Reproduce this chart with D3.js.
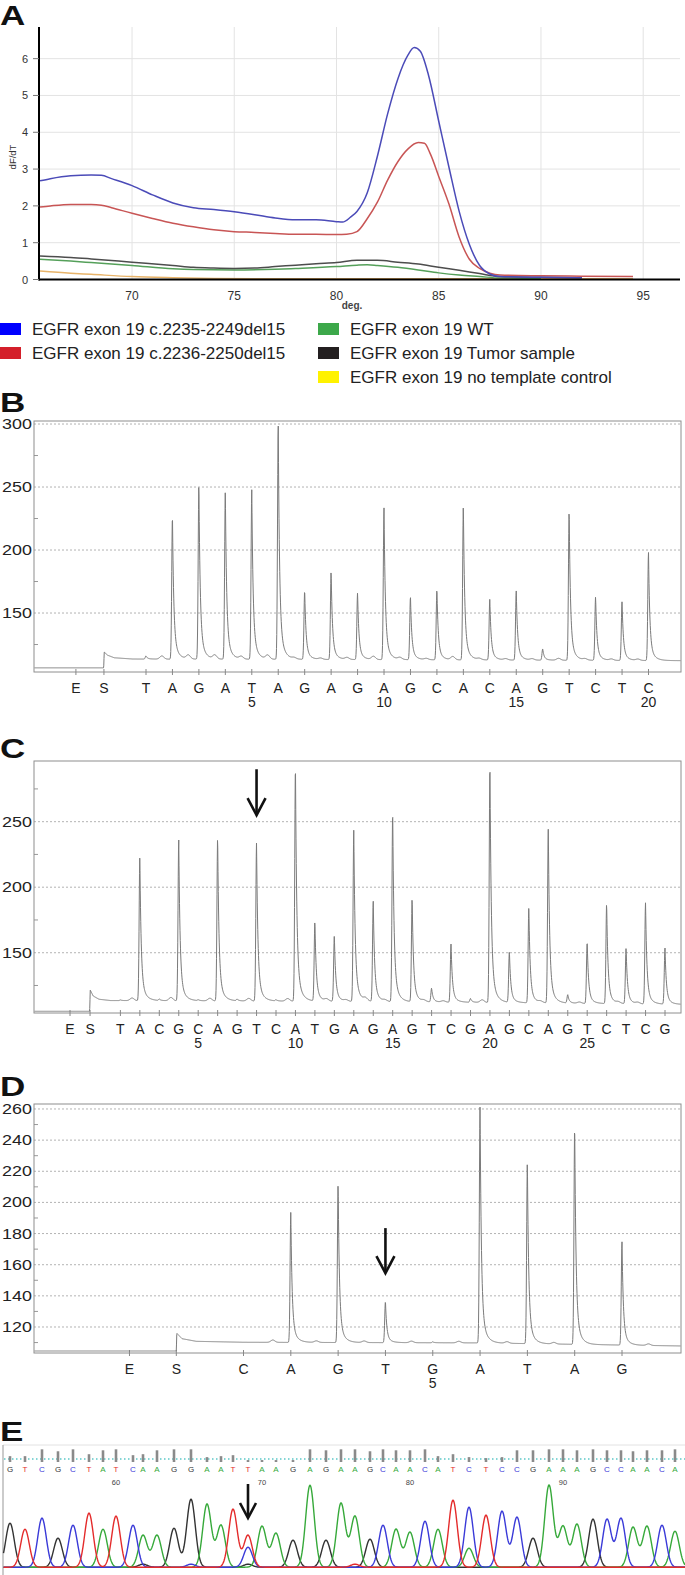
<!DOCTYPE html>
<html>
<head>
<meta charset="utf-8">
<script src="https://cdnjs.cloudflare.com/ajax/libs/d3/7.8.5/d3.min.js"></script>
<style>
  body { margin: 0; background: #fff; }
  svg { display: block; }
  text { font-family: "Liberation Sans", Arial, sans-serif; }
</style>
</head>
<body>
<svg id="fig" width="685" height="1575"></svg>
<script>
(function() {
    'use strict';

    // ---- A: melting curves, [deg, dF/dT]
    var meltDel2235 = [[65.5,2.68],[66,2.74],[67,2.82],[68,2.84],[68.5,2.83],[69,2.74],[70,2.55],[71,2.3],[72,2.08],[73,1.95],[74,1.9],[75,1.84],[76,1.76],[77,1.67],[78,1.62],[79,1.62],[80,1.57],[80.3,1.56],[80.7,1.7],[81,1.85],[81.5,2.35],[82,3.35],[82.5,4.5],[83,5.45],[83.5,6.1],[83.8,6.3],[84.1,6.2],[84.5,5.55],[85,4.3],[85.5,3.05],[86,1.85],[86.5,0.95],[87,0.38],[87.5,0.15],[88,0.08],[90,0.06],[92,0.05]];
    var meltDel2236 = [[65.5,1.97],[66,2.0],[67,2.04],[68,2.04],[68.5,2.02],[69,1.95],[70,1.8],[71,1.66],[72,1.53],[73,1.43],[74,1.35],[75,1.3],[76,1.28],[77,1.25],[78,1.23],[79,1.23],[80,1.22],[80.5,1.23],[81,1.3],[81.5,1.65],[82,2.1],[82.5,2.7],[83,3.2],[83.5,3.55],[84,3.72],[84.3,3.7],[84.6,3.4],[85,2.8],[85.5,2.05],[86,1.15],[86.5,0.55],[87,0.3],[87.5,0.17],[88,0.12],[90,0.1],[92,0.09],[94.5,0.08]];
    var meltWT = [[65.5,0.55],[67,0.5],[68,0.46],[70,0.38],[72,0.29],[73,0.27],[75,0.26],[77,0.28],[78,0.3],[80,0.35],[81,0.39],[81.5,0.4],[82,0.38],[83,0.33],[84,0.26],[85,0.18],[86,0.12],[87,0.08],[88,0.04],[90,0.03]];
    var meltTumor = [[65.5,0.64],[67,0.6],[68,0.56],[70,0.47],[72,0.38],[73,0.33],[74,0.31],[75,0.3],[76,0.31],[77,0.35],[78,0.39],[79,0.43],[80,0.46],[81,0.52],[82,0.52],[83,0.47],[84,0.42],[85,0.33],[86,0.25],[87,0.16],[88,0.08],[90,0.06],[92,0.05]];
    var meltNTC = [[65.5,0.23],[67,0.17],[68,0.14],[70,0.08],[72,0.05],[74,0.03],[76,0.02],[80,0.02],[85,0.02],[90,0.02],[94.5,0.02]];
    var meltXTicks = [70, 75, 80, 85, 90, 95];
    var meltYTicks = [0, 1, 2, 3, 4, 5, 6];
    var legendLabels = ["EGFR exon 19 c.2235-2249del15", "EGFR exon 19 c.2236-2250del15",
        "EGFR exon 19 WT", "EGFR exon 19 Tumor sample", "EGFR exon 19 no template control"];
    var legendColors = ["#0000ff", "#d41f2a", "#3ca84a", "#231f20", "#fff200"];
    var lineColors = ["#4b4bb8", "#c85555", "#55a05a", "#4d4d4d", "#e8b46a"];

    // ---- B, C, D: pyrograms (dispensation order, peak heights)
    var pyroBSeq = "TAGATAGAGAGCACAGTCTC".split("");
    var pyroBVal = [116, 227.5, 252.5, 246.5, 248, 300, 168, 183, 166, 233.5, 163, 169, 235, 161, 167.5, 121.6, 231.5, 163, 159, 198];
    var pyroBBase = [[-3.3,106.5],[-0.6,106.5],[-0.58,119],[-0.45,116.5],[-0.2,114.5],[0.5,113.5],[10,113],[21.3,112.2]];
    var pyroBBumps = [[1.6,2.5],[2.6,3],[3.6,3],[4.6,2],[5.6,3],[6.6,1],[7.6,1],[8.6,1.5],[9.6,2.5],[10.6,1.5],[11.6,1],[12.6,2.5],[13.6,1],[14.6,1],[15.6,1],[16.6,1.5],[17.6,1],[18.6,1],[19.6,1]];

    var pyroCSeq = "TACGCAGTCATGAGAGTCGAGCAGTCTCG".split("");
    var pyroCVal = [114, 223.3, 114.5, 236, 114, 238.5, 114.5, 234, 114, 292.7, 173.7, 162.8, 243.7, 189, 258, 191.5, 122.8, 156.7, 115, 293.8, 150.8, 184.4, 244.4, 117.7, 158.4, 187.7, 153.4, 188.2, 153.4];
    var pyroCBase = [[-3.5,105.3],[-0.58,105.3],[-0.55,121.5],[-0.4,117],[-0.1,114.5],[0.5,113.5],[10,113],[20,112],[30,110.5]];
    var pyroCBumps = [[1.6,2],[3.6,2.5],[5.6,2],[7.6,2],[9.6,2],[11.6,1.5],[12.6,1],[13.6,2],[14.6,1],[16.6,1],[17.6,1],[19.6,2],[22.6,1],[24.6,1],[26.6,1],[27.6,1]];

    var pyroDSeq = "CAGTGATAG".split("");
    var pyroDVal = [110, 193.9, 212, 136.7, 110.5, 261.8, 226, 249.5, 174.7];
    var pyroDBase = [[-3.5,104.6],[-0.42,104.6],[-0.41,116],[-0.3,112.5],[0,110.8],[1,110.2],[6,109.8],[10.3,107.8]];
    var pyroDBumps = [[1.62,1.5],[2.54,1],[3.55,1],[4.55,1],[5.55,1],[6.57,1],[7.56,1],[9.56,1]];

    // ---- E: Sanger trace
    var sangerSeq = "GTCGCTATCAAGGAATTAAGAGAAGCAACATCTCCGAAAGCCAACA".split("");
    var sangerScan = [10,25,42,58,73,89,103,116,133,143,157,174,191,207,221,233,248,262,276,293,310,326,341,355,370,383,396,410,425,438,453,469,486,502,517,533,549,563,577,593,607,621,633,647,662,675];
    var sangerPeak = [44,38,49,29,42,54,38,51,42,32,32,39,68,63,42,58,32,41,34,27,82,27,64,51,28,42,38,35,46,38,67,60,52,56,50,29,82,41,43,48,48,49,40,41,42,36];
    var sangerQual = [18,18,39,33,39,24,36,39,21,24,36,39,39,15,18,21,6,6,6,6,39,36,39,39,33,39,36,36,39,18,24,15,12,15,36,36,39,39,36,39,36,36,33,36,36,39];
    var sangerMinor = [["C",17,20],["G",17,3],["A",32,19],["G",10,3],["T",24,3],["C",13,3]];
    var sangerNumbers = [[8,"60"],[18,"70"],[28,"80"],[38,"90"]];
    var baseColors = {A: "#36a93a", C: "#3a3ad8", G: "#333333", T: "#e42b2b"};

    var svg = d3.select("#fig");

    function panelLetter(t, x, y) {
        svg.append("text")
            .attr("transform", "translate(" + x + "," + y + ") scale(1.25,1)")
            .attr("font-size", 28)
            .attr("font-weight", "bold")
            .attr("fill", "#111")
            .text(t);
    }

    // ============ A ============
    var xA = d3.scaleLinear().domain([65.45, 96.8]).range([39, 680]),
        yA = d3.scaleLinear().domain([0, 6.86]).range([279.5, 27]);
    var gA = svg.append("g");

    gA.selectAll("line.vg").data(meltXTicks).enter().append("line")
        .attr("x1", function(d) { return xA(d); })
        .attr("x2", function(d) { return xA(d); })
        .attr("y1", yA(6.86)).attr("y2", yA(0))
        .attr("stroke", "#e3e3e3");
    gA.selectAll("line.hg").data(meltYTicks.slice(1)).enter().append("line")
        .attr("x1", xA.range()[0]).attr("x2", xA.range()[1])
        .attr("y1", function(d) { return yA(d); })
        .attr("y2", function(d) { return yA(d); })
        .attr("stroke", "#e3e3e3");

    var meltLine = d3.line()
        .x(function(d) { return xA(d[0]); })
        .y(function(d) { return yA(d[1]); })
        .curve(d3.curveMonotoneX);
    var meltSeries = [meltNTC, meltWT, meltTumor, meltDel2236, meltDel2235];
    var meltColors = [lineColors[4], lineColors[2], lineColors[3], lineColors[1], lineColors[0]];
    gA.selectAll("path.melt").data(meltSeries).enter().append("path")
        .attr("d", meltLine)
        .attr("fill", "none")
        .attr("stroke", function(d, i) { return meltColors[i]; })
        .attr("stroke-width", 1.5);

    // axes
    gA.append("line").attr("x1", xA.range()[0]).attr("x2", xA.range()[1])
        .attr("y1", yA(0)).attr("y2", yA(0)).attr("stroke", "#000").attr("stroke-width", 2);
    gA.append("line").attr("x1", xA.range()[0]).attr("x2", xA.range()[0])
        .attr("y1", yA(6.86)).attr("y2", yA(0) + 1).attr("stroke", "#000").attr("stroke-width", 2);
    gA.selectAll("line.yt").data(meltYTicks).enter().append("line")
        .attr("x1", 33).attr("x2", 39)
        .attr("y1", function(d) { return yA(d); })
        .attr("y2", function(d) { return yA(d); })
        .attr("stroke", "#777");
    gA.selectAll("text.yl").data(meltYTicks).enter().append("text")
        .attr("x", 28).attr("y", function(d) { return yA(d) + 4; })
        .attr("text-anchor", "end")
        .attr("font-family", "DejaVu Sans").attr("font-size", 11).attr("fill", "#333")
        .text(function(d) { return d; });
    gA.selectAll("text.xl").data(meltXTicks).enter().append("text")
        .attr("x", function(d) { return xA(d); }).attr("y", 300)
        .attr("text-anchor", "middle")
        .attr("font-family", "DejaVu Sans").attr("font-size", 12).attr("fill", "#333")
        .text(function(d) { return d; });
    gA.append("text").attr("transform", "translate(16,157) rotate(-90)")
        .attr("text-anchor", "middle").attr("font-size", 9.5).attr("fill", "#333")
        .text("dF/dT");
    gA.append("text").attr("x", 352).attr("y", 309)
        .attr("text-anchor", "middle").attr("font-size", 10).attr("font-weight", "bold").attr("fill", "#444")
        .text("deg.");

    // legend: two columns
    var legendPos = [[0, 329], [0, 353], [318, 329], [318, 353], [318, 377]];
    var lg = gA.selectAll("g.leg").data(legendLabels).enter().append("g")
        .attr("transform", function(d, i) { return "translate(" + legendPos[i][0] + "," + legendPos[i][1] + ")"; });
    lg.append("rect").attr("x", 0).attr("y", -6).attr("width", 21).attr("height", 12)
        .attr("fill", function(d, i) { return legendColors[i]; });
    lg.append("text").attr("x", 32).attr("y", 6)
        .attr("font-size", 17).attr("fill", "#222")
        .text(function(d) { return d; });

    panelLetter("A", 0, 25);

    // ============ pyrograms ============
    function peakShape(dx) {
        if (dx < 0) return Math.exp(-dx * dx / (2 * 0.7 * 0.7));
        return 0.85 * Math.exp(-dx / 1.3) + 0.15 * Math.exp(-dx / 4.5);
    }

    function pyrogram(p) {
        var x = d3.scaleLinear().domain([1, p.seq.length]).range(p.xr),
            y = d3.scaleLinear().domain(p.yd).range([p.bottom, p.top]);
        var g = svg.append("g");

        g.selectAll("line.grid").data(p.yTicks).enter().append("line")
            .attr("x1", p.left).attr("x2", p.right)
            .attr("y1", function(d) { return y(d); })
            .attr("y2", function(d) { return y(d); })
            .attr("stroke", "#a0a0a0").attr("stroke-width", 0.8)
            .attr("stroke-dasharray", "2,2");
        g.selectAll("line.minor").data(p.yMinor).enter().append("line")
            .attr("x1", p.left).attr("x2", p.left + 4)
            .attr("y1", function(d) { return y(d); })
            .attr("y2", function(d) { return y(d); })
            .attr("stroke", "#999");
        g.append("rect")
            .attr("x", p.left).attr("y", p.top)
            .attr("width", p.right - p.left).attr("height", p.bottom - p.top)
            .attr("fill", "none").attr("stroke", "#8e8e8e");
        g.selectAll("text.yl").data(p.yTicks).enter().append("text")
            .attr("transform", function(d) { return "translate(32," + (y(d) + 5) + ") scale(1.28,1)"; })
            .attr("text-anchor", "end").attr("font-size", 14).attr("fill", "#222")
            .text(function(d) { return d; });

        // dispensation labels
        var labNs = [p.es[0], p.es[1]].concat(d3.range(1, p.seq.length + 1)),
            labTs = ["E", "S"].concat(p.seq);
        g.selectAll("line.xt").data(labNs).enter().append("line")
            .attr("x1", function(d) { return x(d); })
            .attr("x2", function(d) { return x(d); })
            .attr("y1", p.bottom - 3).attr("y2", p.bottom + 3)
            .attr("stroke", "#888");
        g.selectAll("text.xl").data(labNs).enter().append("text")
            .attr("x", function(d) { return x(d); }).attr("y", p.bottom + 21)
            .attr("text-anchor", "middle").attr("font-size", 14).attr("fill", "#222")
            .text(function(d, i) { return labTs[i]; });
        g.selectAll("text.nl").data(d3.range(5, p.seq.length + 1, 5)).enter().append("text")
            .attr("x", function(d) { return x(d); }).attr("y", p.bottom + 35)
            .attr("text-anchor", "middle").attr("font-size", 14).attr("fill", "#222")
            .text(function(d) { return d; });

        // trace
        var baseAt = d3.scaleLinear()
            .domain(p.base.map(function(d) { return d[0]; }))
            .range(p.base.map(function(d) { return d[1]; }))
            .clamp(true);
        var pts = [];
        for (var px = p.left + 0.5; px <= p.right - 0.5; px += 0.25) {
            var n = x.invert(px),
                lift = 0;
            p.vals.forEach(function(v, i) {
                var amp = y(baseAt(i + 1)) - y(v);
                if (amp > 0) lift += amp * peakShape(px - x(i + 1));
            });
            p.bumps.forEach(function(b) {
                var amp = y(baseAt(b[0])) - y(baseAt(b[0]) + b[1]),
                    dx = px - x(b[0]);
                lift += amp * Math.exp(-dx * dx / 8);
            });
            pts.push([px, y(baseAt(n)) - lift]);
        }
        g.append("path").attr("d", d3.line()(pts))
            .attr("fill", "none").attr("stroke", "#7a7a7a").attr("stroke-width", 1);

        if (p.arrow) {
            var ax = x(p.arrow[0]), a0 = y(p.arrow[1]), a1 = y(p.arrow[2]);
            g.append("line").attr("x1", ax).attr("x2", ax).attr("y1", a0).attr("y2", a1 - 1)
                .attr("stroke", "#111").attr("stroke-width", 2.6);
            g.append("path")
                .attr("d", "M" + (ax - 9) + "," + (a1 - 17) + "L" + ax + "," + a1 + "L" + (ax + 9) + "," + (a1 - 17))
                .attr("fill", "none").attr("stroke", "#111").attr("stroke-width", 2.6);
        }
    }

    pyrogram({
        seq: pyroBSeq, vals: pyroBVal, base: pyroBBase, bumps: pyroBBumps, es: [-1.65, -0.59],
        xr: [146, 648.5], yd: [103.2, 302.4], top: 421, bottom: 672, left: 34, right: 681,
        yTicks: [150, 200, 250, 300], yMinor: [125, 175, 225, 275]
    });
    pyrogram({
        seq: pyroCSeq, vals: pyroCVal, base: pyroCBase, bumps: pyroCBumps, es: [-1.59, -0.56],
        xr: [120.4, 665], yd: [104, 296.3], top: 761, bottom: 1013, left: 34, right: 681,
        yTicks: [150, 200, 250], yMinor: [125, 175, 225, 275], arrow: [8, 290, 255]
    });
    pyrogram({
        seq: pyroDSeq, vals: pyroDVal, base: pyroDBase, bumps: pyroDBumps, es: [-1.41, -0.42],
        xr: [243.5, 622], yd: [103.3, 263.2], top: 1104, bottom: 1353, left: 34, right: 681,
        yTicks: [120, 140, 160, 180, 200, 220, 240, 260], yMinor: [110, 130, 150, 170, 190, 210, 230, 250],
        arrow: [4, 183.5, 154.6]
    });
    panelLetter("B", 0, 412);
    panelLetter("C", 0, 758);
    panelLetter("D", 0, 1096);

    // ============ E ============
    var xE = d3.scaleLinear().domain([0, 685]).range([0, 685]),
        yE = d3.scaleLinear().domain([0, 100]).range([1568, 1468]),
        qE = d3.scaleLinear().domain([0, 40]).range([0, 13]);
    var gE = svg.append("g");
    gE.append("line").attr("x1", 3).attr("x2", 685).attr("y1", 1445).attr("y2", 1445)
        .attr("stroke", "#e2e2e2");
    gE.append("line").attr("x1", 3).attr("x2", 3).attr("y1", 1445).attr("y2", 1575)
        .attr("stroke", "#a8a8a8").attr("stroke-width", 1.2);
    gE.append("line").attr("x1", 4).attr("x2", 685).attr("y1", 1459).attr("y2", 1459)
        .attr("stroke", "#5cc8c8").attr("stroke-width", 1.5).attr("stroke-dasharray", "1.5,2.5");
    gE.selectAll("rect.q").data(sangerQual).enter().append("rect")
        .attr("x", function(d, i) { return xE(sangerScan[i]) - 1.3; })
        .attr("y", function(d) { return 1462 - qE(d); })
        .attr("width", 2.6)
        .attr("height", function(d) { return qE(d); })
        .attr("fill", "#8a8a8a");
    gE.selectAll("text.b").data(sangerSeq).enter().append("text")
        .attr("x", function(d, i) { return xE(sangerScan[i]); }).attr("y", 1472)
        .attr("text-anchor", "middle").attr("font-family", "DejaVu Sans").attr("font-size", 8)
        .attr("fill", function(d) { return baseColors[d]; })
        .text(function(d) { return d; });
    gE.selectAll("text.num").data(sangerNumbers).enter().append("text")
        .attr("x", function(d) { return xE(sangerScan[d[0] - 1]); }).attr("y", 1485)
        .attr("text-anchor", "middle").attr("font-size", 7.5).attr("fill", "#444")
        .text(function(d) { return d[1]; });

    var traceOrder = ["G", "A", "C", "T"];
    traceOrder.forEach(function(b) {
        var peaks = [];
        sangerSeq.forEach(function(s, i) { if (s === b) peaks.push([sangerScan[i], sangerPeak[i]]); });
        sangerMinor.forEach(function(m) { if (m[0] === b) peaks.push([sangerScan[m[1] - 1], m[2]]); });
        var pts = [];
        for (var px = 3.5; px <= 685; px += 0.5) {
            var v = 0.8;
            peaks.forEach(function(pk) {
                var dx = px - xE(pk[0]);
                v += pk[1] * Math.exp(-dx * dx / (2 * 4.3 * 4.3));
            });
            pts.push([px, yE(v)]);
        }
        gE.append("path").attr("d", d3.line()(pts))
            .attr("fill", "none").attr("stroke", baseColors[b]).attr("stroke-width", 1.4);
    });
    var ex = xE(sangerScan[16]);
    gE.append("line").attr("x1", ex).attr("x2", ex).attr("y1", yE(84)).attr("y2", yE(50) - 1)
        .attr("stroke", "#111").attr("stroke-width", 2.6);
    gE.append("path")
        .attr("d", "M" + (ex - 8) + "," + (yE(50) - 15) + "L" + ex + "," + yE(50) + "L" + (ex + 8) + "," + (yE(50) - 15))
        .attr("fill", "none").attr("stroke", "#111").attr("stroke-width", 2.6);
    panelLetter("E", 0, 1441);
})();
</script>
</body>
</html>
